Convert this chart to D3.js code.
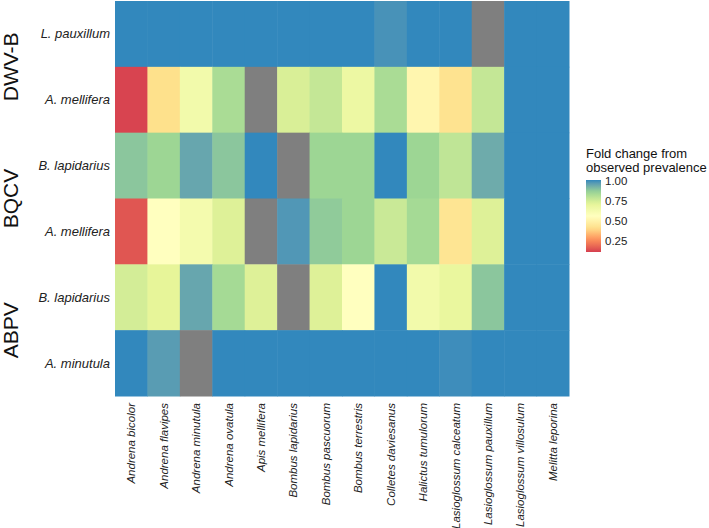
<!DOCTYPE html>
<html><head><meta charset="utf-8">
<script src="https://cdn.jsdelivr.net/npm/d3@7"></script>
<style>body{margin:0;background:#fff;} svg{display:block;}</style>
</head><body>
<script>
const species = ["Andrena bicolor","Andrena flavipes","Andrena minutula","Andrena ovatula","Apis mellifera","Bombus lapidarius","Bombus pascuorum","Bombus terrestris","Colletes daviesanus","Halictus tumulorum","Lasioglossum calceatum","Lasioglossum pauxillum","Lasioglossum villosulum","Melitta leporina"];
const groups = ["DWV-B","BQCV","ABPV"];
const rowHosts = ["L. pauxillum","A. mellifera","B. lapidarius","A. mellifera","B. lapidarius","A. minutula"];
const rowGroup = ["DWV-B","DWV-B","BQCV","BQCV","ABPV","ABPV"];
// values per row (null = not available)
const dwvbLpauxillum = [1.0,1.0,1.0,1.0,1.0,1.0,1.0,1.0,0.98,1.0,1.0,null,1.0,1.0];
const dwvbAmellifera = [0.12,0.41,0.63,0.82,null,0.73,0.77,0.66,0.82,0.51,0.42,0.77,1.0,1.0];
const bqcvBlapidarius = [0.88,0.845,0.94,0.88,1.0,null,0.845,0.845,1.0,0.845,0.78,0.93,1.0,1.0];
const bqcvAmellifera = [0.15,0.555,0.62,0.72,null,0.97,0.87,0.845,0.76,0.83,0.43,0.72,1.0,1.0];
const abpvBlapidarius = [0.74,0.70,0.94,0.83,0.72,null,0.72,0.555,1.0,0.63,0.68,0.88,1.0,1.0];
const abpvAminutula = [1.0,0.96,null,1.0,1.0,1.0,1.0,1.0,1.0,1.0,0.99,1.0,1.0,1.0];
const rows = [dwvbLpauxillum,dwvbAmellifera,bqcvBlapidarius,bqcvAmellifera,abpvBlapidarius,abpvAminutula];
const legendTicks = [0.25,0.50,0.75,1.00];
const valueLimits = [0.11,1.0];
const palette = ["#D53E4F","#FC8D59","#FEE08B","#FFFFBF","#E6F598","#99D594","#3288BD"];

const W=709,H=528;
const svg=d3.select("body").append("svg").attr("width",W).attr("height",H);
const font="'Liberation Sans', Arial, sans-serif";

const x=d3.scaleBand().domain(d3.range(species.length)).range([115,569]);
const y=d3.scaleBand().domain(d3.range(rowHosts.length)).range([1,396]);
const color=d3.scaleLinear()
  .domain(palette.map((c,i)=>valueLimits[0]+i*(valueLimits[1]-valueLimits[0])/(palette.length-1)))
  .range(palette).interpolate(d3.interpolateLab).clamp(true);

const cells=[];
rows.forEach((r,ri)=>r.forEach((v,ci)=>cells.push({ri,ci,v})));
svg.append("g").selectAll("rect").data(cells).join("rect")
  .attr("x",d=>x(d.ci)).attr("y",d=>y(d.ri))
  .attr("width",x.bandwidth()+0.5).attr("height",y.bandwidth()+0.5)
  .attr("fill",d=>d.v==null?"#7F7F7F":color(d.v));

// row labels
svg.append("g").selectAll("text").data(rowHosts).join("text")
  .attr("x",110).attr("y",(d,i)=>y(i)+y.bandwidth()/2).attr("dy","0.35em")
  .attr("text-anchor","end").attr("font-family",font).attr("font-style","italic")
  .attr("font-size",13).attr("fill","#222").text(d=>d);

// group labels
groups.forEach(g=>{
  const idx=rowGroup.map((r,i)=>r===g?i:-1).filter(i=>i>=0);
  const cy=(y(idx[0])+y(idx[idx.length-1])+y.bandwidth())/2;
  svg.append("text").attr("transform",`translate(18,${cy}) rotate(-90)`)
    .attr("text-anchor","middle").attr("font-family",font).attr("font-size",21)
    .attr("fill","#111").text(g);
});

// column labels
svg.append("g").selectAll("text").data(species).join("text")
  .attr("transform",(d,i)=>`translate(${x(i)+x.bandwidth()/2+4},403) rotate(-90)`)
  .attr("text-anchor","end").attr("font-family",font).attr("font-style","italic")
  .attr("font-size",11.5).attr("fill","#222").text(d=>d);

// legend
const lg=svg.append("g");
lg.append("text").attr("x",586).attr("y",158).attr("font-family",font).attr("font-size",13).attr("fill","#111").text("Fold change from");
lg.append("text").attr("x",586).attr("y",172).attr("font-family",font).attr("font-size",13).attr("fill","#111").text("observed prevalence");
const ly=d3.scaleLinear().domain(valueLimits).range([252,181]);
const defs=svg.append("defs");
const grad=defs.append("linearGradient").attr("id","lgrad").attr("x1",0).attr("x2",0).attr("y1",1).attr("y2",0);
d3.range(0,1.0001,0.05).forEach(t=>{
  grad.append("stop").attr("offset",t).attr("stop-color",color(valueLimits[0]+t*(valueLimits[1]-valueLimits[0])));
});
lg.append("rect").attr("x",586).attr("y",ly(valueLimits[1])-1).attr("width",15).attr("height",ly(valueLimits[0])-ly(valueLimits[1])+1).attr("fill","url(#lgrad)");
lg.selectAll(".tk").data(legendTicks).join("text").attr("class","tk")
  .attr("x",605).attr("y",d=>ly(d)).attr("dy","0.35em")
  .attr("font-family",font).attr("font-size",11.5).attr("fill","#222")
  .text(d=>d.toFixed(2));
</script>
</body></html>
